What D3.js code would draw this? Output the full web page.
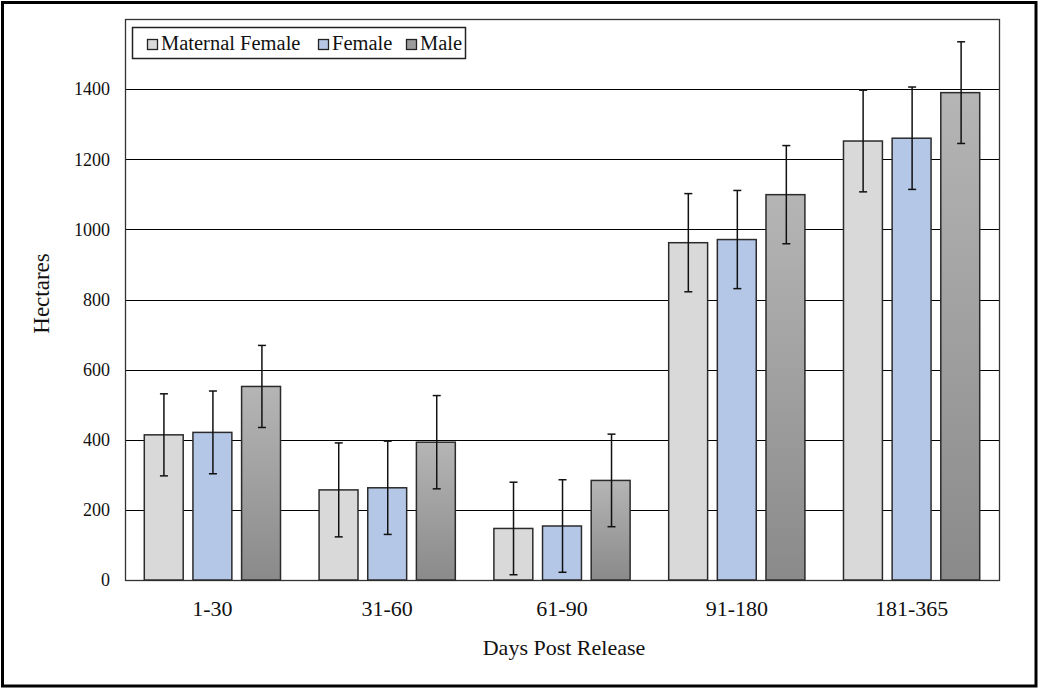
<!DOCTYPE html>
<html>
<head>
<meta charset="utf-8">
<script src="https://cdn.jsdelivr.net/npm/d3@7"></script>
<style>
  html, body { margin: 0; padding: 0; background: #fff; }
  svg { display: block; }
  text { font-family: "Liberation Serif", "Times New Roman", serif; fill: #111; }
</style>
</head>
<body>
<svg id="chart" width="1039" height="688"></svg>
<script>
// Home-range size (hectares) by period after release
const periods = ["1-30", "31-60", "61-90", "91-180", "181-365"];
const seriesNames = ["Maternal Female", "Female", "Male"];
const maternalFemale = [414, 257, 147, 962, 1252];
const female = [421, 263, 154, 971, 1260];
const male = [552, 393, 284, 1099, 1390];
// Standard error for each bar
const maternalFemaleErr = [117, 134, 132, 140, 145];
const femaleErr = [118, 133, 132, 140, 146];
const maleErr = [117, 133, 132, 140, 145];
const yTicks = [0, 200, 400, 600, 800, 1000, 1200, 1400];

const values = [maternalFemale, female, male];
const errors = [maternalFemaleErr, femaleErr, maleErr];
const fills = ["#d9d9d9", "#b4c7e7", "url(#maleGrad)"];

const svg = d3.select("#chart");
const W = 1039, H = 688;
const plot = { left: 125, right: 999, top: 19, bottom: 580 };

// Outer frame
svg.append("rect")
  .attr("x", 2.5).attr("y", 2.5)
  .attr("width", W - 5.5).attr("height", H - 4.5)
  .attr("fill", "#fff").attr("stroke", "#000").attr("stroke-width", 3);

const defs = svg.append("defs");
const grad = defs.append("linearGradient")
  .attr("id", "maleGrad").attr("x1", 0).attr("y1", 0).attr("x2", 0).attr("y2", 1);
grad.append("stop").attr("offset", "0%").attr("stop-color", "#b5b5b5");
grad.append("stop").attr("offset", "100%").attr("stop-color", "#8a8a8a");

const x0 = d3.scaleBand()
  .domain(periods)
  .range([plot.left, plot.right])
  .paddingInner(0.165)
  .paddingOuter(0.0825);

const x1 = d3.scaleBand()
  .domain(seriesNames)
  .range([0, x0.bandwidth()])
  .paddingInner(0.2)
  .paddingOuter(0.1);

const y = d3.scaleLinear().domain([0, 1600]).range([plot.bottom, plot.top]);

// Horizontal gridlines
svg.append("g")
  .selectAll("line")
  .data(yTicks.filter(d => d > 0))
  .join("line")
  .attr("x1", plot.left).attr("x2", plot.right)
  .attr("y1", d => Math.round(y(d)) + 0.5).attr("y2", d => Math.round(y(d)) + 0.5)
  .attr("stroke", "#000").attr("stroke-width", 1.2);

// Plot frame
svg.append("rect")
  .attr("x", plot.left + 0.5).attr("y", plot.top + 0.5)
  .attr("width", plot.right - plot.left).attr("height", plot.bottom - plot.top)
  .attr("fill", "none").attr("stroke", "#333").attr("stroke-width", 1.3);

// Bars
const groups = svg.append("g").selectAll("g")
  .data(periods)
  .join("g")
  .attr("transform", d => `translate(${x0(d)},0)`);

groups.each(function (p, gi) {
  const g = d3.select(this);
  seriesNames.forEach((s, si) => {
    const v = values[si][gi];
    g.append("rect")
      .attr("x", x1(s))
      .attr("y", y(v))
      .attr("width", x1.bandwidth())
      .attr("height", y(0) - y(v))
      .attr("fill", fills[si])
      .attr("stroke", "#2b2b2b")
      .attr("stroke-width", 1.5);
  });
});

// Error bars
groups.each(function (p, gi) {
  const g = d3.select(this);
  seriesNames.forEach((s, si) => {
    const v = values[si][gi], e = errors[si][gi];
    const cx = Math.round(x1(s) + x1.bandwidth() / 2) + 0.5;
    const hi = y(v + e), lo = y(v - e);
    g.append("line").attr("x1", cx).attr("x2", cx).attr("y1", hi).attr("y2", lo)
      .attr("stroke", "#111").attr("stroke-width", 1.5);
    [hi, lo].forEach(yy => {
      g.append("line").attr("x1", cx - 4).attr("x2", cx + 4).attr("y1", yy).attr("y2", yy)
        .attr("stroke", "#111").attr("stroke-width", 1.5);
    });
  });
});

// Y axis labels
const yAxis = d3.axisLeft(y).tickValues(yTicks).tickFormat(d3.format("d")).tickSize(0).tickPadding(15);
const yg = svg.append("g").attr("transform", `translate(${plot.left},0)`).call(yAxis);
yg.select(".domain").remove();
yg.selectAll("text")
  .style("font-family", '"Liberation Serif", "Times New Roman", serif')
  .style("font-size", "18px").attr("fill", "#111");

// X axis labels
const xAxis = d3.axisBottom(x0).tickSize(0).tickPadding(20);
const xg = svg.append("g").attr("transform", `translate(0,${plot.bottom})`).call(xAxis);
xg.select(".domain").remove();
xg.selectAll("text")
  .style("font-family", '"Liberation Serif", "Times New Roman", serif')
  .style("font-size", "22px").attr("fill", "#111");

// Axis titles
svg.append("text")
  .attr("x", (plot.left + plot.right) / 2 + 2).attr("y", 655)
  .attr("text-anchor", "middle").style("font-size", "22px")
  .text("Days Post Release");

svg.append("text")
  .attr("transform", `translate(49,${(plot.top + plot.bottom) / 2 - 6}) rotate(-90)`)
  .attr("text-anchor", "middle").style("font-size", "23px")
  .text("Hectares");

// Legend
const legend = svg.append("g");
legend.append("rect")
  .attr("x", 132.5).attr("y", 27.5).attr("width", 333).attr("height", 31)
  .attr("fill", "#fff").attr("stroke", "#222").attr("stroke-width", 1.5);
const legendX = [147, 318, 406];
const legendFills = ["#d9d9d9", "#b4c7e7", "#9c9c9c"];
seriesNames.forEach((s, i) => {
  legend.append("rect")
    .attr("x", legendX[i] + 0.5).attr("y", 39.5).attr("width", 10).attr("height", 10)
    .attr("fill", legendFills[i]).attr("stroke", "#222").attr("stroke-width", 1.3);
  legend.append("text")
    .attr("x", legendX[i] + 14).attr("y", 50)
    .style("font-size", "20.5px")
    .text(s);
});
</script>
</body>
</html>
